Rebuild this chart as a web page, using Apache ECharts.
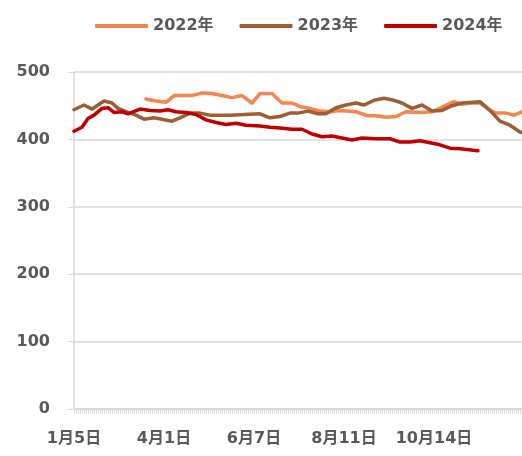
<!DOCTYPE html>
<html>
<head>
<meta charset="utf-8">
<script src="https://cdn.jsdelivr.net/npm/echarts@6/dist/echarts.min.js"></script>
<style>
  html, body { margin: 0; padding: 0; background: #fff; }
  #chart { width: 522px; height: 456px; }
</style>
</head>
<body>
<div id="chart"></div>
<script>
// x轴标签（每45个点一个）
const tickLabels = ["1月5日", "4月1日", "6月7日", "8月11日", "10月14日"];
const labelStep = 45;
const categoryCount = 225;

const yTicks = [0, 100, 200, 300, 400, 500];

// 各年份：点位序号 + 数值
const idx2022 = [36, 41, 46, 50, 59, 64, 69, 74, 79, 84, 89, 93, 99, 104, 109, 114, 118, 123, 128, 133, 141, 147, 151, 156, 161, 166, 173, 179, 184, 190, 194, 199, 203, 208, 211, 216, 220, 224];
const val2022 = [460, 457, 455, 465, 465, 469, 468, 465, 462, 465, 454, 468, 468, 454, 454, 448, 446, 442, 441, 443, 441, 435, 435, 433, 434, 441, 440, 441, 448, 456, 452, 454, 454, 443, 439, 439, 436, 441];

const idx2023 = [0, 5, 9, 15, 19, 22, 27, 31, 35, 40, 44, 49, 53, 58, 63, 68, 78, 85, 93, 98, 103, 108, 112, 117, 122, 126, 131, 136, 141, 145, 150, 155, 160, 164, 169, 174, 179, 184, 189, 194, 203, 208, 213, 218, 223, 224];
const val2023 = [444, 451, 445, 457, 454, 446, 440, 436, 430, 432, 430, 427, 432, 439, 439, 436, 436, 437, 438, 432, 434, 439, 439, 442, 438, 438, 447, 451, 454, 451, 458, 461, 458, 454, 446, 451, 442, 443, 450, 454, 456, 443, 427, 421, 411, 410];

const idx2024 = [0, 4, 7, 10, 14, 17, 20, 24, 27, 33, 38, 43, 47, 51, 56, 61, 66, 71, 76, 81, 86, 93, 98, 103, 109, 114, 119, 124, 129, 134, 139, 144, 151, 158, 163, 168, 173, 178, 183, 188, 193, 202];
const val2024 = [412, 418, 431, 436, 446, 447, 440, 441, 438, 445, 443, 442, 444, 441, 440, 437, 429, 425, 422, 424, 421, 420, 418, 417, 415, 415, 408, 404, 405, 402, 399, 402, 401, 401, 396, 396, 398, 395, 392, 387, 386, 383];

const categories = [];
for (let i = 0; i < categoryCount; i++) {
  categories.push(i % labelStep === 0 ? tickLabels[i / labelStep] : "");
}

function pairs(idx, vals) {
  return idx.map((x, i) => [x, vals[i]]);
}

let textColor = "#595959";
let lineGray = "#d9d9d9";
let fontFamily = "'DejaVu Sans', 'Noto Sans CJK SC', sans-serif";

let chart = echarts.init(document.getElementById("chart"));
let option = {
  animation: false,
  grid: {
    left: 74,
    right: 0,
    top: 72,
    bottom: 47,
  },
  legend: {
    left: 90,
    top: 13,
    icon: "roundRect",
    itemWidth: 53,
    itemHeight: 4,
    itemGap: 26,
    textStyle: {
      color: textColor,
      fontSize: 16,
      fontWeight: "bold",
      fontFamily: fontFamily,
    },
    data: ["2022年", "2023年", "2024年"],
  },
  xAxis: {
    type: "category",
    data: categories,
    boundaryGap: false,
    axisLine: { lineStyle: { color: lineGray, width: 1.5 } },
    axisTick: {
      show: true,
      interval: 0,
      length: 5,
      lineStyle: { color: lineGray },
    },
    axisLabel: {
      interval: labelStep - 1,
      margin: 22,
      color: textColor,
      fontSize: 16,
      fontWeight: "bold",
      fontFamily: fontFamily,
    },
    splitLine: { show: false },
  },
  yAxis: {
    type: "value",
    min: yTicks[0],
    max: yTicks[yTicks.length - 1],
    interval: 100,
    axisLine: { show: true, lineStyle: { color: lineGray, width: 1.5 } },
    axisTick: { show: true, length: 6, lineStyle: { color: lineGray } },
    axisLabel: {
      margin: 24,
      color: textColor,
      fontSize: 16,
      fontWeight: "bold",
      fontFamily: fontFamily,
    },
    splitLine: { lineStyle: { color: lineGray, width: 1.5 } },
  },
  series: [
    {
      name: "2022年",
      type: "line",
      symbol: "none",
      color: "#F7834D",
      lineStyle: { width: 3.5, cap: "round", join: "round" },
      data: pairs(idx2022, val2022),
    },
    {
      name: "2023年",
      type: "line",
      symbol: "none",
      color: "#9C5E33",
      lineStyle: { width: 3.5, cap: "round", join: "round" },
      data: pairs(idx2023, val2023),
    },
    {
      name: "2024年",
      type: "line",
      symbol: "none",
      color: "#C00000",
      lineStyle: { width: 3.5, cap: "round", join: "round" },
      data: pairs(idx2024, val2024),
    },
  ],
};
chart.setOption(option);
</script>
</body>
</html>
